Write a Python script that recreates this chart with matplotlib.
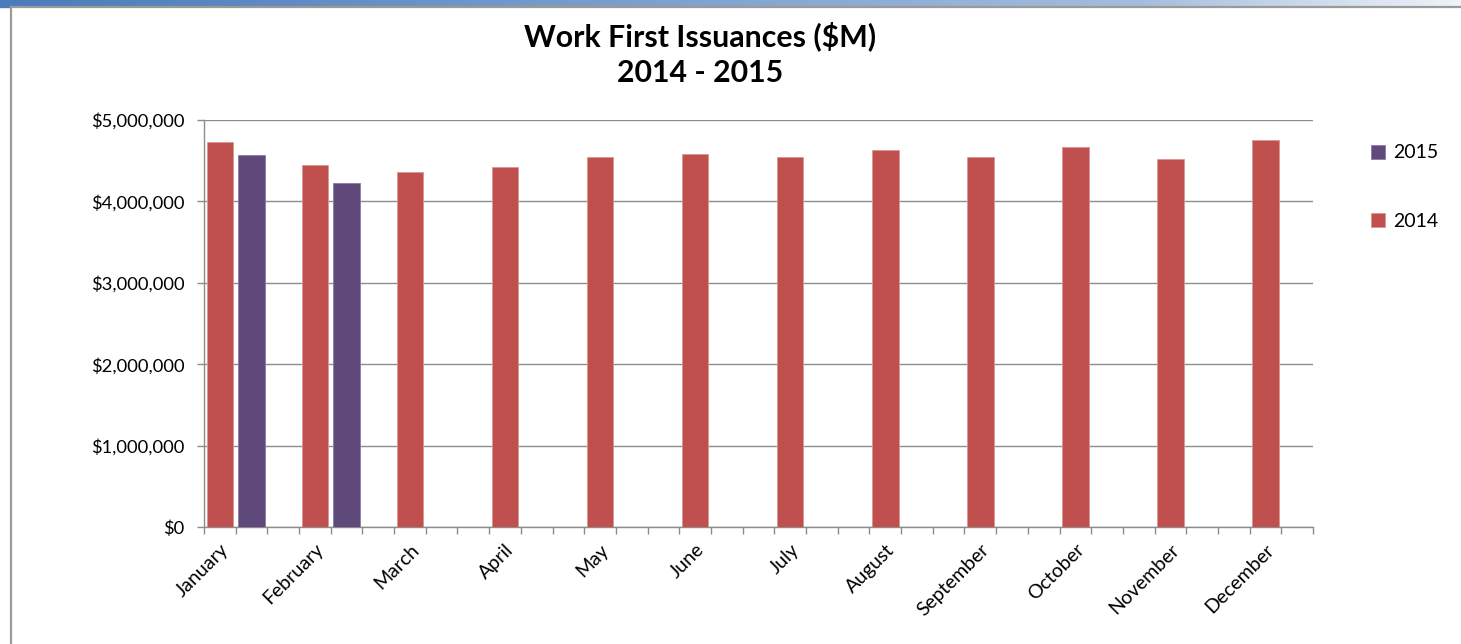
import numpy as np
import matplotlib
matplotlib.use("Agg")
import matplotlib.pyplot as plt
from matplotlib.patches import Rectangle
from matplotlib.lines import Line2D
from matplotlib.ticker import FuncFormatter, MultipleLocator

plt.rcParams['font.family'] = ['Lato', 'DejaVu Sans']

months = ["January", "February", "March", "April", "May", "June", "July",
          "August", "September", "October", "November", "December"]
values_2014 = [4724000, 4453000, 4358000, 4428000, 4547000, 4584000,
               4547000, 4630000, 4547000, 4671000, 4527000, 4757000]
values_2015 = [4572000, 4226000]

RED = "#C0504D"
PURPLE = "#604A7B"
GRID = "#8C8C8C"

W, H = 1461, 644
fig = plt.figure(figsize=(W / 100, H / 100), dpi=100)

# top gradient strip
strip = fig.add_axes([0, 1 - 6 / H, 1, 6 / H])
grad = np.linspace(0, 1, 512)
c0 = np.array([0x4A, 0x7B, 0xBA]) / 255
c1 = np.array([0xA4, 0xBD, 0xDD]) / 255
c2 = np.array([0xF0, 0xF3, 0xF8]) / 255
cols = []
for g in grad:
    if g < 0.78:
        t = g / 0.78
        cols.append(c0 * (1 - t) + c1 * t)
    else:
        t = (g - 0.78) / 0.22
        cols.append(c1 * (1 - t) + c2 * t)
strip.imshow(np.array(cols)[None, :, :], aspect='auto', extent=[0, 1, 0, 1])
strip.set_axis_off()

# frame lines
fig.add_artist(Line2D([10.5 / W, 1], [1 - 6.5 / H, 1 - 6.5 / H], color="#9A9A9A", lw=1.6,
                      transform=fig.transFigure))
fig.add_artist(Line2D([10.5 / W, 10.5 / W], [0, 1 - 6.5 / H], color="#9A9A9A", lw=1.6,
                      transform=fig.transFigure))
fig.add_artist(Rectangle((0, 1 - 7 / H), 10 / W, 7 / H, color="#4A7BBA",
                         transform=fig.transFigure))

ax = fig.add_axes([204 / W, (H - 527) / H, (1313 - 204) / W, (527 - 120) / H])

n_slots = 3 * len(months) - 1
x2014 = [3 * i for i in range(len(values_2014))]
x2015 = [3 * i + 1 for i in range(len(values_2015))]
bw = 0.84
ax.bar(x2014, values_2014, width=bw, color=RED, edgecolor="#D99694", linewidth=0.6,
       zorder=3, label="2014")
ax.bar(x2015, values_2015, width=bw, color=PURPLE, edgecolor="#8C7AA3", linewidth=0.6,
       zorder=3, label="2015")

ax.set_xlim(-0.5, n_slots - 0.5)
ax.set_ylim(0, 5000000)
ax.yaxis.set_major_locator(MultipleLocator(1000000))
ax.yaxis.set_major_formatter(FuncFormatter(lambda v, p: "$0" if v == 0 else "${:,.0f}".format(v)))
ax.grid(axis='y', color=GRID, lw=1.0, zorder=0)

ax.set_xticks(x2014)
ax.set_xticklabels(months, rotation=45, ha='right', va='top', rotation_mode='anchor',
                   fontsize=14)
ax.set_xticks(np.arange(-0.5, n_slots, 1.0), minor=True)
ax.tick_params(axis='x', which='major', length=0, pad=10)
ax.tick_params(axis='x', which='minor', length=5, color=GRID, width=1)
ax.tick_params(axis='y', length=5, color=GRID, width=1, labelsize=13.2, pad=9)

for s in ['top', 'right']:
    ax.spines[s].set_visible(False)
for s in ['left', 'bottom']:
    ax.spines[s].set_color(GRID)
    ax.spines[s].set_linewidth(1.0)

fig.text(700 / W, 1 - 36 / H, "Work First Issuances ($M)", ha='center', va='center',
         fontsize=21.8, fontweight='bold')
fig.text(700 / W, 1 - 73 / H, "2014 - 2015", ha='center', va='center',
         fontsize=21.8, fontweight='bold')

handles, labels = ax.get_legend_handles_labels()
leg = fig.legend(handles[::-1], labels[::-1], loc='upper left',
                 bbox_to_anchor=(1353 / W, 1 - 127 / H), frameon=False, fontsize=14,
                 handlelength=0.75, handleheight=0.75, handletextpad=0.4,
                 labelspacing=2.65)

fig.savefig("out.png", dpi=100)
